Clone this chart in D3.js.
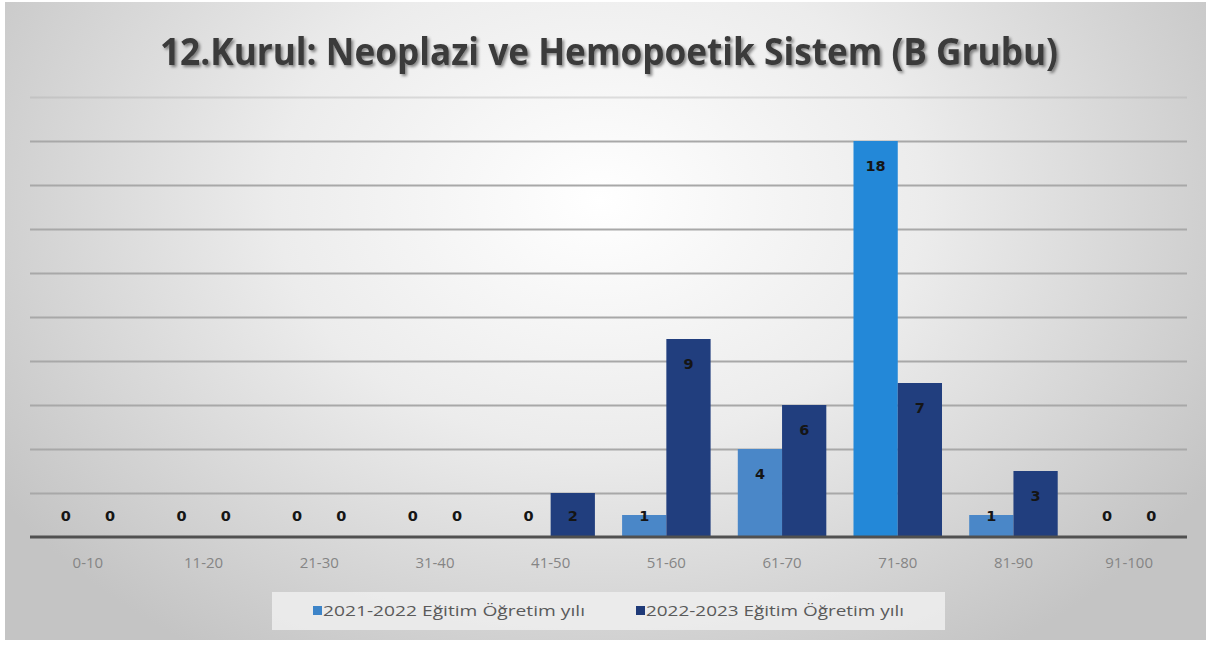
<!DOCTYPE html>
<html><head><meta charset="utf-8">
<script src="https://cdn.jsdelivr.net/npm/d3@7"></script>
<style>html,body{margin:0;padding:0;background:#fff;}svg{display:block;}</style>
</head><body>
<script>
const categories = ["0-10","11-20","21-30","31-40","41-50","51-60","61-70","71-80","81-90","91-100"];
const series2021 = [0,0,0,0,0,1,4,18,1,0];
const series2022 = [0,0,0,0,2,9,6,7,3,0];
const seriesNames = ["2021-2022 Eğitim Öğretim yılı","2022-2023 Eğitim Öğretim yılı"];
const yTicks = [0,2,4,6,8,10,12,14,16,18,20];
const titleText = "12.Kurul: Neoplazi ve Hemopoetik Sistem (B Grubu)";

const W = 1211, H = 645;
const svg = d3.select("body").append("svg").attr("width", W).attr("height", H);
const defs = svg.append("defs");
const rg = defs.append("radialGradient").attr("id","bg").attr("gradientUnits","userSpaceOnUse")
  .attr("cx",600).attr("cy",200).attr("r",720).attr("gradientTransform","matrix(1,0,0,0.75,0,50)");
rg.append("stop").attr("offset","0%").attr("stop-color","#ffffff");
rg.append("stop").attr("offset","45%").attr("stop-color","#ececec");
rg.append("stop").attr("offset","100%").attr("stop-color","#c4c4c4");
const f = defs.append("filter").attr("id","sh").attr("x","-5%").attr("y","-30%").attr("width","110%").attr("height","160%");
f.append("feDropShadow").attr("dx",2).attr("dy",2).attr("stdDeviation",1.5).attr("flood-color","#000").attr("flood-opacity",0.45);

svg.append("rect").attr("x",5).attr("y",2).attr("width",W-10).attr("height",H-7).attr("fill","url(#bg)");

const margin = {left:30, right:1187, top:97, bottom:537};
const x0 = d3.scaleBand().domain(categories).range([margin.left, margin.right]).paddingInner(0.235).paddingOuter(0.1175);
const x1 = d3.scaleBand().domain([0,1]).range([0, x0.bandwidth()]);
const y = d3.scaleLinear().domain([0,20]).range([margin.bottom, margin.top]);

// gridlines
const grid = svg.append("g").call(d3.axisLeft(y).tickValues(yTicks.slice(1)).tickSize(-(margin.right-margin.left)).tickFormat(""))
  .attr("transform",`translate(${margin.left},0)`);
grid.select(".domain").remove();
grid.selectAll("line").attr("stroke","#a8a8a8").attr("stroke-width",2).attr("opacity",(d)=> d===20?0.35:1);

const colorsA = categories.map(c => c==="71-80" ? "#2388d8" : "#4a87c8");
const colorB = "#213e7e";

const g = svg.append("g");
categories.forEach((c,i)=>{
  const vals = [series2021[i], series2022[i]];
  vals.forEach((v,k)=>{
    const bx = x0(c)+x1(k);
    if (v>0) g.append("rect").attr("x",bx).attr("y",y(v)).attr("width",x1.bandwidth()).attr("height",y(0)-y(v))
      .attr("fill", k===0?colorsA[i]:colorB);
    g.append("text").attr("x",bx+x1.bandwidth()/2).attr("y",Math.min(y(v)+24, y(0)-22)+5.5)
      .attr("text-anchor","middle").attr("font-family","DejaVu Sans").attr("font-weight","bold")
      .attr("font-size",14.5).attr("fill","#151515").text(v);
  });
});

// baseline
svg.append("line").attr("x1",margin.left).attr("x2",margin.right).attr("y1",y(0)).attr("y2",y(0))
  .attr("stroke","#505050").attr("stroke-width",3);

// x axis labels
const xa = svg.append("g").attr("transform",`translate(0,${y(0)})`).call(d3.axisBottom(x0).tickSize(0).tickPadding(20));
xa.select(".domain").remove();
xa.selectAll("text").attr("font-family","Open Sans").attr("font-size",15).attr("fill","#858585");

// title
svg.append("text").attr("x",609).attr("y",65).attr("text-anchor","middle").attr("font-family","Open Sans")
  .attr("font-weight","bold").attr("font-size",37).attr("fill","#3a3a3a").attr("filter","url(#sh)")
  .attr("textLength",898).attr("lengthAdjust","spacingAndGlyphs").text(titleText);

// legend
svg.append("rect").attr("x",272).attr("y",592).attr("width",673).attr("height",38).attr("fill","#eeeeee").attr("opacity",0.85);
const legColors = ["#3d84c8","#1f3a78"];
const legX = [313, 636];
const legLen = [262, 258];
seriesNames.forEach((n,k)=>{
  svg.append("rect").attr("x",legX[k]).attr("y",606).attr("width",9).attr("height",9).attr("fill",legColors[k]);
  svg.append("text").attr("x",legX[k]+10).attr("y",616).attr("font-family","Open Sans").attr("font-size",15)
    .attr("fill","#5a5a5a").attr("textLength", legLen[k]).attr("lengthAdjust","spacingAndGlyphs").text(n);
});
</script>
</body></html>
